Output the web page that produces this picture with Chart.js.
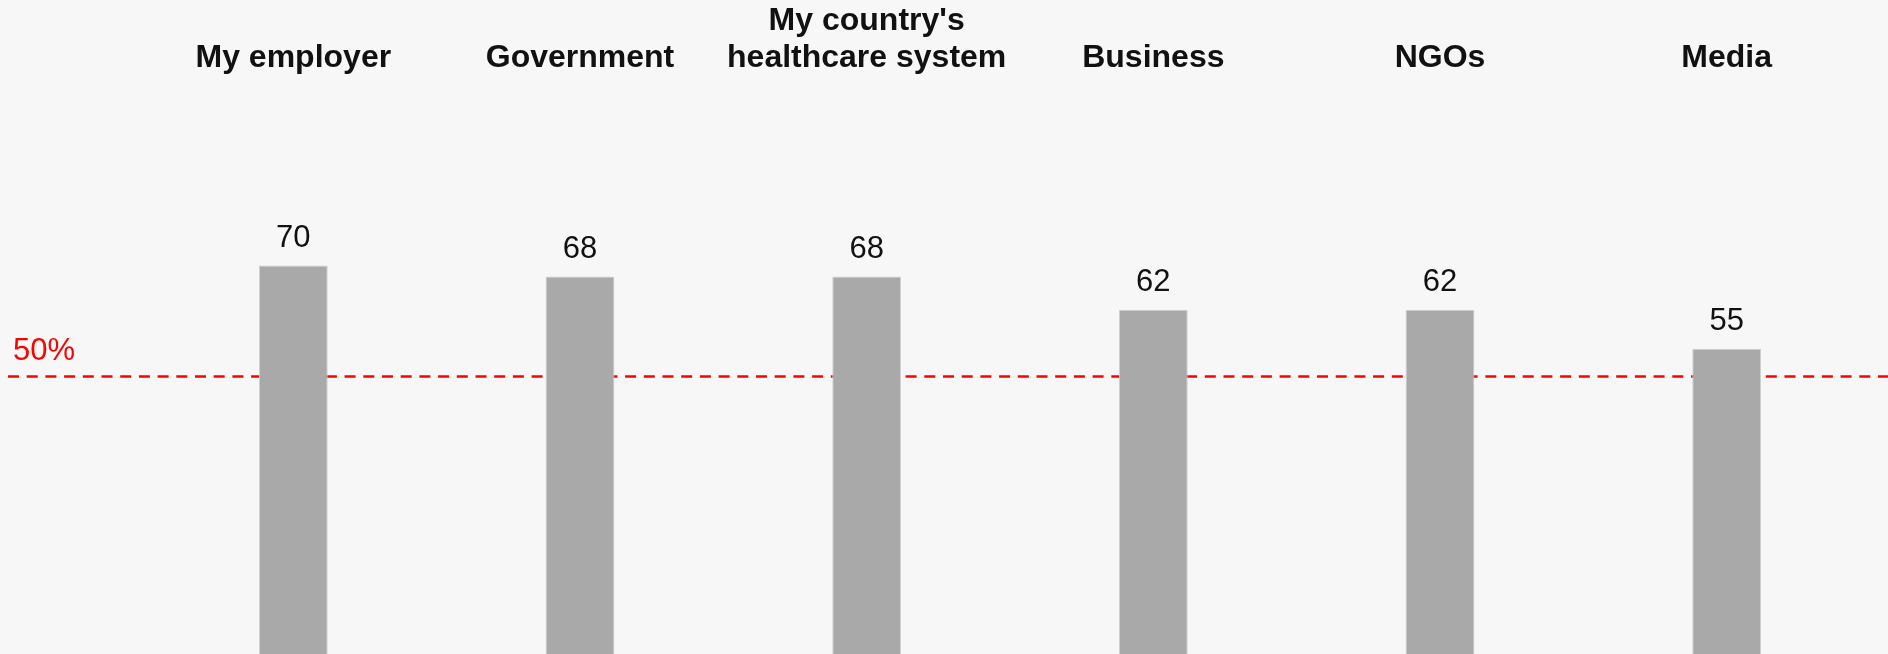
<!DOCTYPE html>
<html lang="en">
<head>
    <meta charset="UTF-8">
    <title>Trust by institution</title>
    <script src="https://cdn.jsdelivr.net/npm/chart.js"></script>
    <style>
        body { margin: 0; background: #f7f7f7; }
        #wrap { position: relative; width: 1888px; height: 654px; }
    </style>
</head>
<body>

    <div id="wrap">
        <canvas id="trustChart"></canvas>
    </div>

    <script>
        // data
        const institutions = ["My employer", "Government", ["My country's", "healthcare system"], "Business", "NGOs", "Media"];
        const trustScores = [70, 68, 68, 62, 62, 55];
        const thresholdValue = 50;
        const thresholdLabel = "50%";

        const FONT = "'Liberation Sans', Arial, Helvetica, sans-serif";

        // red dashed threshold line, drawn under the bars
        const thresholdPlugin = {
            id: "threshold",
            beforeDatasetsDraw(chart) {
                const ctx = chart.ctx;
                const y = chart.scales.y.getPixelForValue(thresholdValue);
                ctx.save();
                ctx.strokeStyle = "#ff0000";
                ctx.lineWidth = 2.5;
                ctx.setLineDash([11, 7.7]);
                ctx.beginPath();
                ctx.moveTo(8, y);
                ctx.lineTo(chart.width, y);
                ctx.stroke();
                ctx.setLineDash([]);
                ctx.fillStyle = "#ff0000";
                ctx.font = "31px " + FONT;
                ctx.textAlign = "left";
                ctx.textBaseline = "alphabetic";
                ctx.fillText(thresholdLabel, 13, y - 16);
                ctx.restore();
            }
        };

        // value above each bar
        const valueLabels = {
            id: "valueLabels",
            afterDatasetsDraw(chart) {
                const ctx = chart.ctx;
                const meta = chart.getDatasetMeta(0);
                ctx.save();
                ctx.fillStyle = "#111";
                ctx.font = "31px " + FONT;
                ctx.textAlign = "center";
                ctx.textBaseline = "alphabetic";
                meta.data.forEach((bar, i) => {
                    ctx.fillText(String(trustScores[i]), bar.x, bar.y - 18.5);
                });
                ctx.restore();
            }
        };

        new Chart(document.getElementById("trustChart"), {
            type: "bar",
            data: {
                labels: institutions,
                datasets: [{
                    data: trustScores,
                    backgroundColor: "#a9a9a9",
                    borderColor: "#cfcfcf",
                    borderWidth: 1,
                    categoryPercentage: 1,
                    barPercentage: 0.24
                }]
            },
            options: {
                responsive: true,
                maintainAspectRatio: false,
                animation: false,
                layout: { padding: { left: 150, right: 18, top: 0, bottom: 0 } },
                plugins: {
                    legend: { display: false },
                    tooltip: { enabled: false }
                },
                scales: {
                    x: {
                        position: "top",
                        grid: { display: false, drawTicks: false },
                        border: { display: false },
                        ticks: {
                            color: "#111",
                            padding: 8,
                            maxRotation: 0,
                            autoSkip: false,
                            font: { family: FONT, size: 32, weight: "bold", lineHeight: 1.17 }
                        },
                        afterFit(axis) { axis.height = 85; }
                    },
                    y: {
                        display: false,
                        min: 0,
                        max: 102.5
                    }
                }
            },
            plugins: [thresholdPlugin, valueLabels]
        });
    </script>

</body>
</html>
